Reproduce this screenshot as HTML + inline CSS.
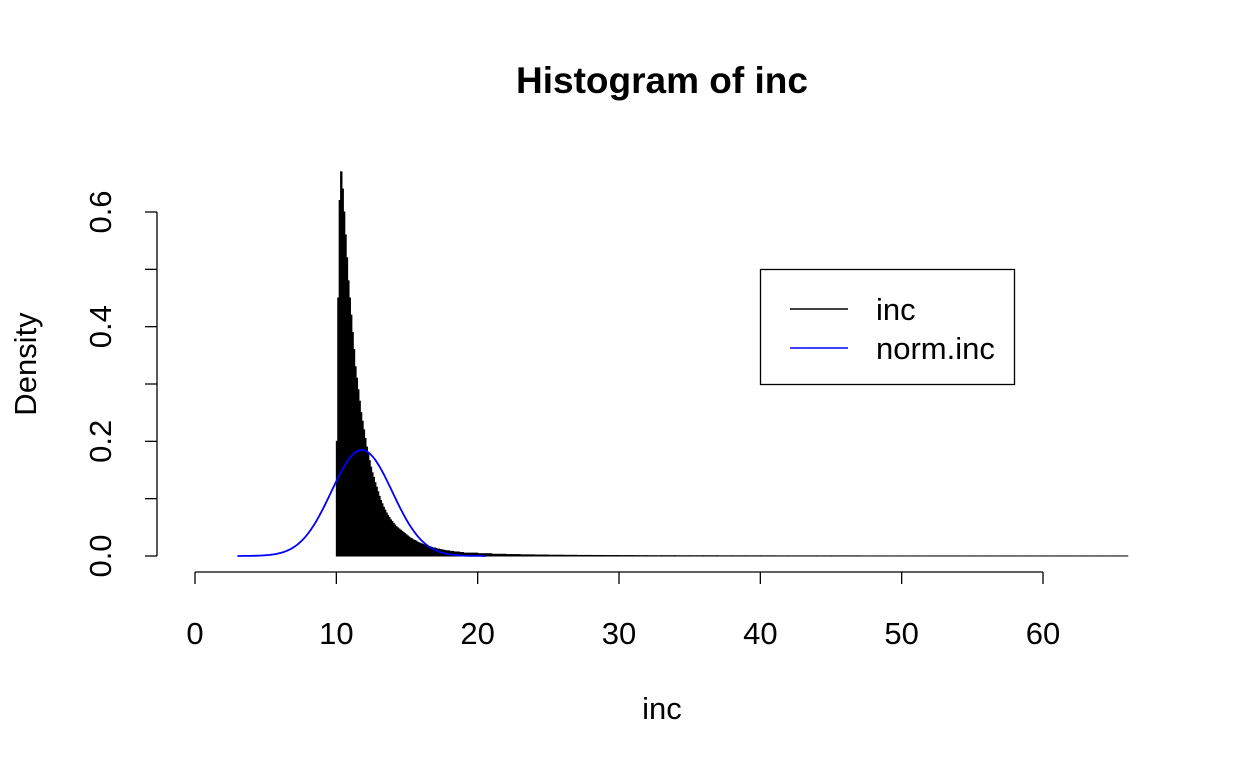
<!DOCTYPE html>
<html><head><meta charset="utf-8"><style>
body{margin:0;background:#fff}
svg text{font-family:"Liberation Sans",Arial,sans-serif;fill:#000}
</style></head><body>
<svg width="1248" height="768" xmlns="http://www.w3.org/2000/svg">
<text x="662" y="93" text-anchor="middle" font-size="37" font-weight="bold">Histogram of inc</text>
<text x="662" y="719" text-anchor="middle" font-size="31">inc</text>
<text transform="translate(36,364) rotate(-90)" text-anchor="middle" font-size="31">Density</text>
<g id="axes"></g>
<g id="bars"></g>
<path id="norm" fill="none" stroke="#0000ff" stroke-width="1.8"></path>
<g>
<rect x="760.5" y="269.5" width="254" height="115" fill="#fff" stroke="#000" stroke-width="1.3"/>
<line x1="790" y1="309" x2="848" y2="309" stroke="#000" stroke-width="1.5"/>
<text x="876" y="320" font-size="31">inc</text>
<line x1="790" y1="348" x2="848" y2="348" stroke="#0000ff" stroke-width="1.5"/>
<text x="876" y="359" font-size="31">norm.inc</text>
</g>
</svg>
<script>
const xTicks=[0,10,20,30,40,50,60];
const yTicks=[0,0.1,0.2,0.3,0.4,0.5,0.6];
const yTickLabels=["0.0","","0.2","","0.4","","0.6"];
const binStart=10, binWidth=0.1;
const densities=[0.20,0.45,0.62,0.67,0.64,0.60,0.56,0.52,0.48,0.45,0.42,0.39,0.36,0.33,0.31,0.29,0.27,0.25,0.235,0.22,0.205,0.19,0.178,0.166,0.155,0.145,0.137,0.128,0.12,0.112,0.104,0.097,0.091,0.085,0.08,0.075,0.071,0.067,0.063,0.06,0.057,0.054,0.051,0.049,0.047,0.045,0.043,0.041,0.039,0.037,0.035,0.033,0.031,0.03,0.028,0.027,0.026,0.024,0.023,0.022,0.021,0.02,0.019,0.018,0.017,0.016,0.016,0.015,0.014,0.014,0.013,0.012,0.012,0.011,0.011,0.010,0.010,0.009,0.009,0.009,0.008,0.008,0.008,0.007,0.007,0.007,0.007,0.006,0.006,0.006];
const tailStart=19, tailWidth=1;
const tailDensities=[0.005,0.004,0.003,0.0025,0.002,0.0017,0.0014,0.0012,0.001,0.0009,0.0008,0.0007,0.0006,0.0005,0.0005,0.0004,0.0004,0.0004,0.0003,0.0003,0.0003,0.0003,0.0002,0.0002,0.0002,0.0002,0.0002,0.0002,0.0001,0.0001,0.0001,0.0001,0.0001,0.0001,0.0001,0.0001,0.0001,0.0001,0.0001,0.0001,0.0001,0.0001,0.0001,0.0001,0.0001,0.0001,0.0001];
const normMean=11.8, normSd=2.16, normFrom=3, normTo=20.6;

const X=v=>195+v*(1043-195)/60;
const Y=v=>556-v*(556-212)/0.6;
const NS="http://www.w3.org/2000/svg";
function mk(tag,attrs,parent){const e=document.createElementNS(NS,tag);for(const k in attrs)e.setAttribute(k,attrs[k]);parent.appendChild(e);return e;}
const axes=document.getElementById('axes');
let l=mk('line',{x1:X(0),y1:572,x2:X(60),y2:572,stroke:'#000','stroke-width':1.3},axes);


xTicks.forEach(t=>{
 let tk=mk('line',{x1:X(t),y1:572,x2:X(t),y2:584,stroke:'#000','stroke-width':1.3},axes);
 
 
 let tx=mk('text',{x:X(t),y:644,'text-anchor':'middle','font-size':31},axes);tx.textContent=t;
 
 
});
l=mk('line',{x1:157,y1:Y(0),x2:157,y2:Y(0.6),stroke:'#000','stroke-width':1.3},axes);


yTicks.forEach((t,i)=>{
 let tk=mk('line',{x1:145,y1:Y(t),x2:157,y2:Y(t),stroke:'#000','stroke-width':1.3},axes);
 
 
 if(yTickLabels[i]){let tx=mk('text',{transform:`translate(111,${Y(t)}) rotate(-90)`,'text-anchor':'middle','font-size':31},axes);tx.textContent=yTickLabels[i];
 
 }
});
const bars=document.getElementById('bars');
function bar(x0,w,d){
 const r=mk('rect',{x:X(x0),y:Y(d),width:X(x0+w)-X(x0),height:Y(0)-Y(d),fill:'#000',stroke:'#000','stroke-width':1},bars);
 
 
}
densities.forEach((d,i)=>bar(binStart+i*binWidth,binWidth,d));
tailDensities.forEach((d,i)=>bar(tailStart+i*tailWidth,tailWidth,d));
let p='';
for(let i=0;i<=200;i++){const x=normFrom+(normTo-normFrom)*i/200;const d=Math.exp(-0.5*((x-normMean)/normSd)**2)/(normSd*Math.sqrt(2*Math.PI));p+=(i?'L':'M')+X(x).toFixed(1)+','+Y(d).toFixed(1);}
document.getElementById('norm').setAttribute('d',p);
</script>
</body></html>
